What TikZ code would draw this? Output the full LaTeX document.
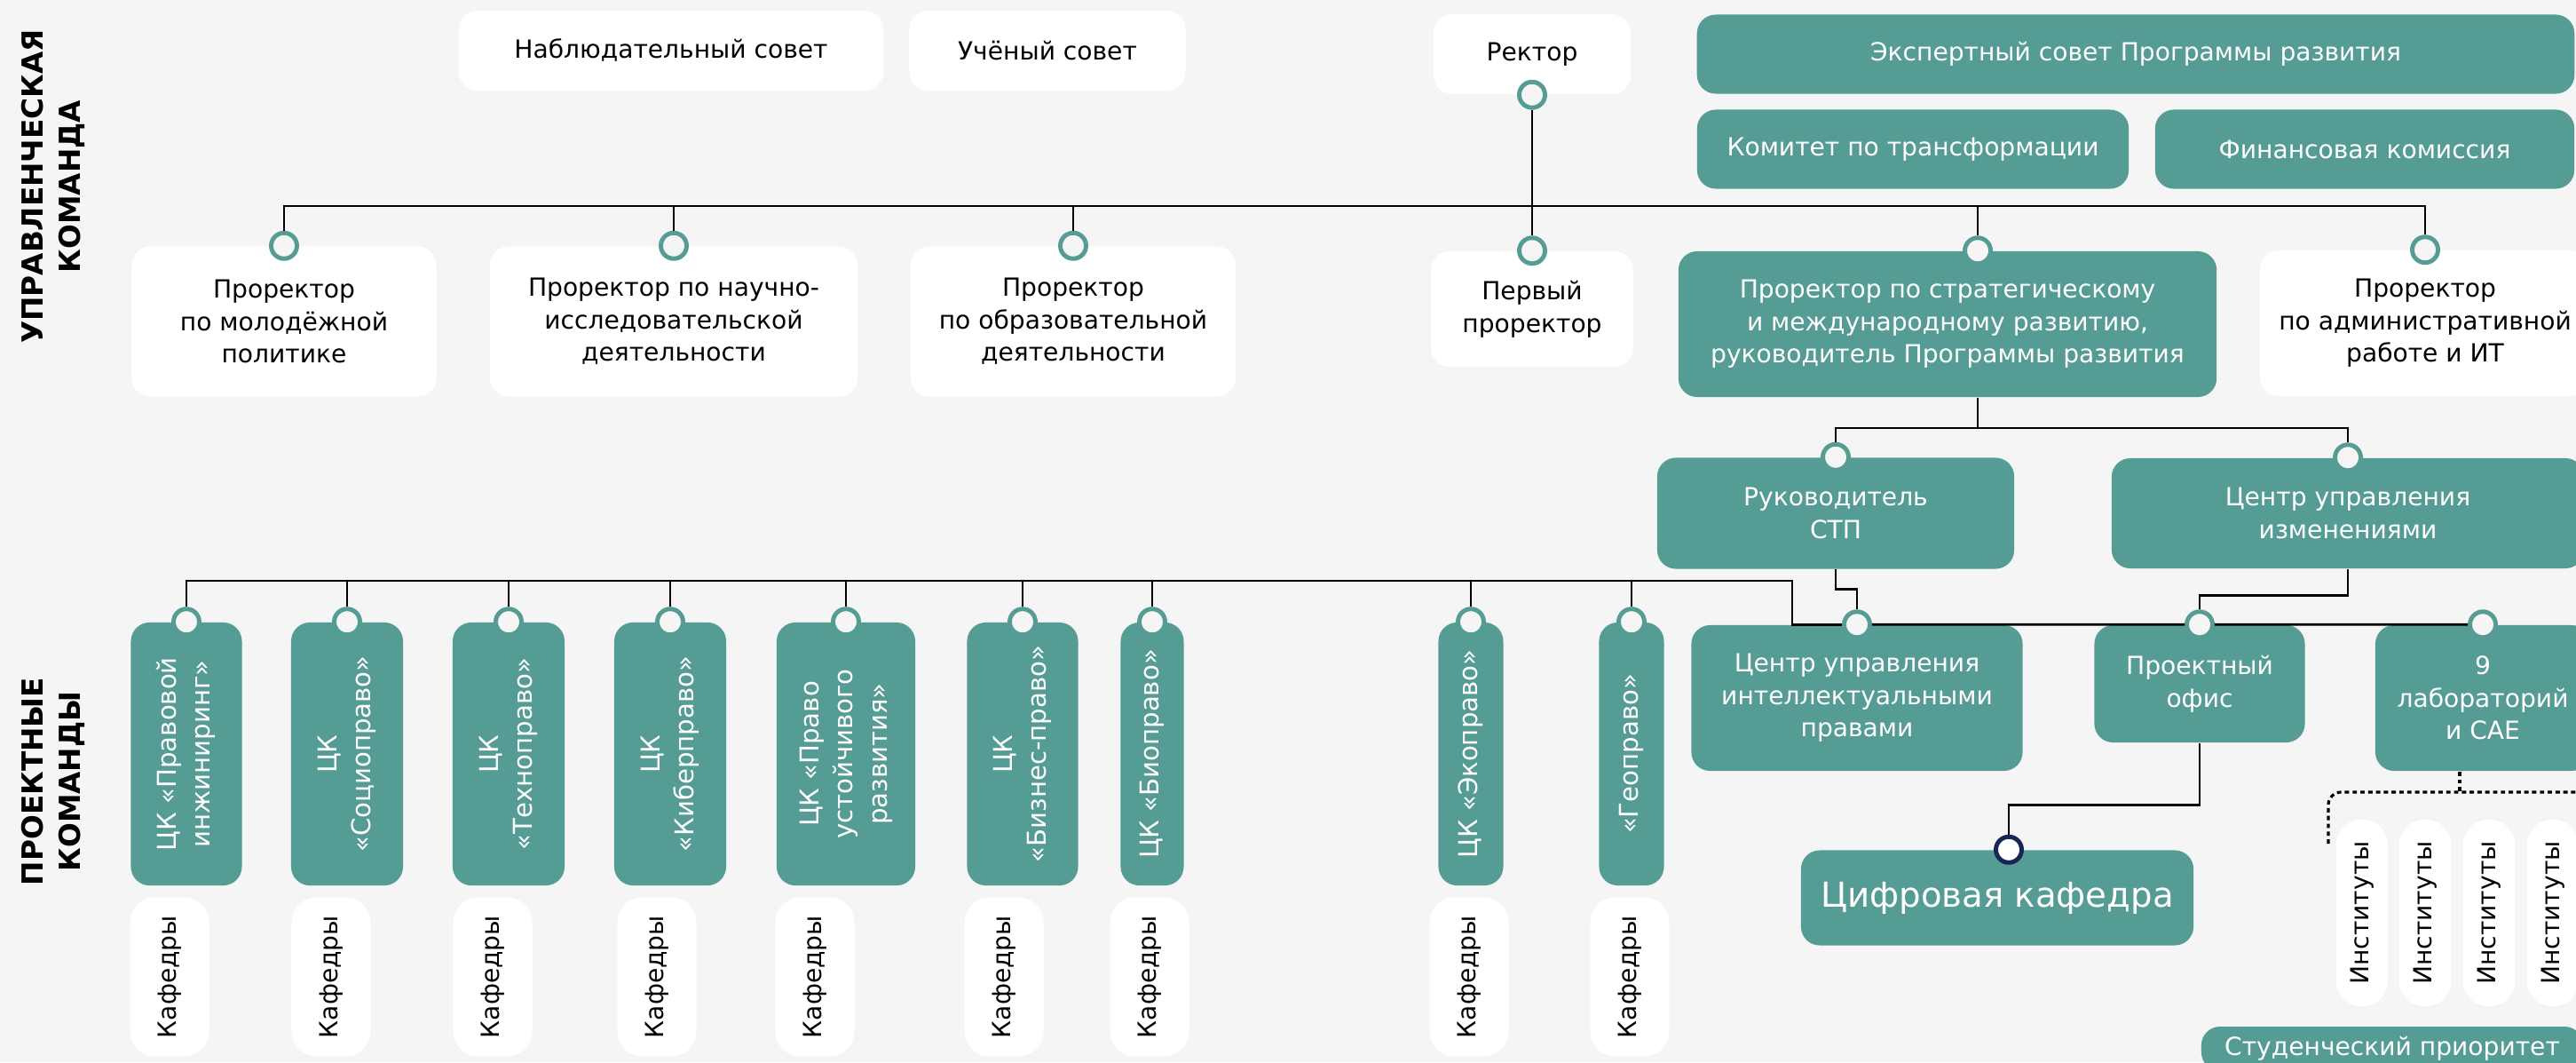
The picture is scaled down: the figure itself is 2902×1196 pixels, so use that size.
\documentclass[tikz,border=0pt]{standalone}
\usepackage{fontspec}
\usepackage{graphicx}
\setmainfont{DejaVu Sans}
\definecolor{bggrey}{RGB}{245,245,245}
\definecolor{teamteal}{RGB}{85,156,148}
\definecolor{diginavy}{RGB}{24,38,86}
\newcommand{\vtext}[1]{\rotatebox{90}{\begin{tabular}{@{}c@{}}#1\end{tabular}}}
\begin{document}
\begin{tikzpicture}[x=0.01cm,y=-0.01cm]
\tikzstyle{every node}+=[inner sep=0pt]
\tikzstyle{wbox}=[rectangle, rounded corners=6pt, fill=white, text=black, align=center, font=\fontsize{8}{10.4}\selectfont]
\tikzstyle{tbox}=[wbox, fill=teamteal, text=white]
\tikzstyle{ckbox}=[tbox, font=\fontsize{8.3}{10.9}\selectfont, minimum height=2.96cm]
\tikzstyle{pill}=[wbox, rounded corners=8pt]
\tikzstyle{head}=[rotate=90, align=center, text=black, font=\fontsize{9.3}{12}\selectfont\bfseries]
\tikzstyle{port}=[circle, draw=teamteal, line width=1.4pt, fill=bggrey, minimum size=0.29cm]
\tikzstyle{dport}=[port, draw=diginavy, fill=white]
\tikzstyle{link}=[draw=black, line width=0.8pt]
\tikzstyle{dotlink}=[draw=black, line width=0.9pt, dash pattern=on 1.4pt off 1.1pt, rounded corners=4pt]
\useasboundingbox (0,0) rectangle (2902,1196);
\clip (0,0) rectangle (2902,1196);
\fill [bggrey] (0,0) rectangle (2902,1196);
\node [head] (upr) at (60,210) {УПРАВЛЕНЧЕСКАЯ\\КОМАНДА};
\node [head] (proj) at (60,880) {ПРОЕКТНЫЕ\\КОМАНДЫ};
\node [wbox, minimum width=4.78cm, minimum height=0.9cm] (nabl) at (756,57) {Наблюдательный совет};
\node [wbox, minimum width=3.11cm, minimum height=0.9cm] (uchen) at (1180,57) {Учёный совет};
\node [wbox, minimum width=2.22cm, minimum height=0.9cm] (rektor) at (1726,61) {Ректор};
\node [tbox, minimum width=9.88cm, minimum height=0.89cm] (expert) at (2406,61) {Экспертный совет Программы развития};
\node [tbox, minimum width=4.86cm, minimum height=0.89cm] (komitet) at (2155,168) {Комитет по трансформации};
\node [tbox, minimum width=4.72cm, minimum height=0.89cm] (finkom) at (2664,168) {Финансовая комиссия};
\node [wbox, minimum width=3.43cm, minimum height=1.69cm] (pmol) at (320,362) {Проректор\\по молодёжной\\политике};
\node [wbox, minimum width=4.14cm, minimum height=1.69cm] (pnauch) at (759,362) {Проректор по научно-\\исследовательской\\деятельности};
\node [wbox, minimum width=3.66cm, minimum height=1.69cm] (pobr) at (1209,362) {Проректор\\по образовательной\\деятельности};
\node [wbox, minimum width=2.28cm, minimum height=1.30cm] (pfirst) at (1726,348) {Первый\\проректор};
\node [tbox, minimum width=6.06cm, minimum height=1.64cm] (pstrat) at (2194,365) {Проректор по стратегическому\\и международному развитию,\\руководитель Программы развития};
\node [wbox, minimum width=3.72cm, minimum height=1.64cm] (padm) at (2732,364) {Проректор\\по административной\\работе и ИТ};
\node [tbox, minimum width=4.02cm, minimum height=1.25cm] (rstp) at (2068,578) {Руководитель\\СТП};
\node [tbox, minimum width=5.32cm, minimum height=1.24cm] (cuizm) at (2645,578) {Центр управления\\изменениями};
\node [tbox, minimum width=3.73cm, minimum height=1.64cm] (cuip) at (2092,786) {Центр управления\\интеллектуальными\\правами};
\node [tbox, minimum width=2.37cm, minimum height=1.32cm] (profis) at (2478,770) {Проектный\\офис};
\node [tbox, minimum width=2.42cm, minimum height=1.64cm] (lab9) at (2797,786) {9\\лабораторий\\и САЕ};
\node [tbox, minimum width=4.42cm, minimum height=1.07cm, font=\fontsize{11}{13}\selectfont] (digi) at (2250,1011) {Цифровая кафедра};
\foreach \i/\x in {1/2661,2/2732,3/2804,4/2876}
  \node [pill, minimum width=0.58cm, minimum height=2.10cm] (inst\i) at (\x,1028) {\vtext{Институты}};
\node [tbox, minimum width=4.30cm, minimum height=0.50cm] (stud) at (2695,1181) {Студенческий приоритет};
\foreach \n/\x/\w/\t in {1/210/1.25/{ЦК «Правовой\\инжиниринг»}, 2/391/1.26/{ЦК\\«Социоправо»},
    3/573/1.26/{ЦК\\«Техноправо»}, 4/755/1.26/{ЦК\\«Киберправо»}, 5/953/1.56/{ЦК «Право\\устойчивого\\развития»},
    6/1152/1.25/{ЦК\\«Бизнес-право»}, 7/1298/0.71/{ЦК «Биоправо»}, 8/1657/0.73/{ЦК «Экоправо»}, 9/1838/0.73/{«Геоправо»}}
  \node [ckbox, minimum width=\w cm] (ck\n) at (\x,849) {\vtext{\t}};
\foreach \n/\x in {1/191,2/373,3/555,4/740,5/918,6/1131,7/1295,8/1655,9/1836}
  \node [pill, minimum width=0.89cm, minimum height=1.79cm] (kaf\n) at (\x,1100) {\vtext{Кафедры}};
\node [port] (rektor-p) at (rektor.south) {};
\node [port] (pmol-p) at (pmol.north) {};
\node [port] (pnauch-p) at (pnauch.north) {};
\node [port] (pobr-p) at (pobr.north) {};
\node [port] (pfirst-p) at (pfirst.north) {};
\node [port] (pstrat-p) at ([xshift=0.34cm]pstrat.north) {};
\node [port] (padm-p) at (padm.north) {};
\node [port] (rstp-p) at (rstp.north) {};
\node [port] (cuizm-p) at (cuizm.north) {};
\node [port] (cuip-p) at (cuip.north) {};
\node [port] (profis-p) at (profis.north) {};
\node [port] (lab9-p) at (lab9.north) {};
\node [dport] (digi-p) at ([xshift=0.13cm]digi.north) {};
\foreach \n in {1,...,9}
  \node [port] (ck\n-p) at (ck\n.north) {};
\coordinate (topbus) at (1000,232);
\coordinate (stratbus) at (2200,482);
\coordinate (ckbus) at (2019,654);
\coordinate (labdrop) at ([xshift=-0.26cm]lab9.south);
\coordinate (instcorner) at (2623,892);
\coordinate (instend) at (2623,950);
\coordinate (instright) at (2910,892);
\draw [link] (pmol-p.north) |- (topbus) -| (padm-p.north);
\foreach \p in {pnauch-p,pobr-p,pstrat-p}
  \draw [link] (\p.north) -- (\p.north |- topbus);
\draw [link] (rektor-p.south) -- (pfirst-p.north);
\draw [link] (pstrat-p |- pstrat.south) -- (pstrat-p |- stratbus);
\draw [link] (rstp-p.north) |- (stratbus) -| (cuizm-p.north);
\draw [link] (rstp.south) -- ++(0,22) -| (cuip-p.north);
\draw [link] (ck1-p.north) |- (ckbus) |- (cuip-p.west);
\foreach \n in {2,...,9}
  \draw [link] (ck\n-p.north) -- (ck\n-p.north |- ckbus);
\draw [link] (cuip-p.east) -- (profis-p.west);
\draw [link] (profis-p.east) -- (lab9-p.west);
\draw [link] (cuizm.south) -- ++(0,30) -| (profis-p.north);
\draw [link] (profis.south) -- ++(0,70) -| (digi-p.north);
\draw [dotlink] (instend) -- (instcorner) -- (instright);
\draw [dotlink] (labdrop) -- (labdrop |- instcorner);
\end{tikzpicture}
\end{document}
